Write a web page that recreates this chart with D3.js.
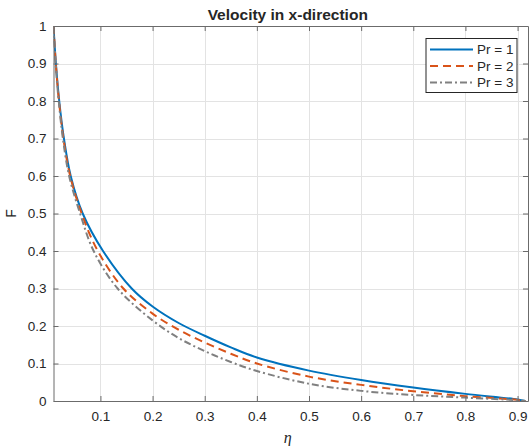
<!DOCTYPE html>
<html>
<head>
  <meta charset="utf-8">
  <title>Velocity in x-direction</title>
  <script src="https://cdn.jsdelivr.net/npm/d3@7"></script>
  <style>
    html, body { margin: 0; padding: 0; background: #fff; }
    text { font-family: "Liberation Sans", Arial, sans-serif; fill: #262626; }
  </style>
</head>
<body>
<div id="chart"></div>
<script>

  // --- data ---
  var seriesNames = ["Pr = 1", "Pr = 2", "Pr = 3"];

  var etaPr1 = [0.01, 0.0146, 0.021, 0.03, 0.043, 0.066, 0.105, 0.16, 0.2, 0.25, 0.3, 0.35, 0.4, 0.5, 0.6, 0.7, 0.8, 0.9, 0.915];
  var fPr1   = [1, 0.9, 0.8, 0.7, 0.6, 0.5, 0.4, 0.3, 0.252, 0.208, 0.174, 0.143, 0.116, 0.081, 0.056, 0.036, 0.019, 0.004, 0];

  var etaPr2 = [0.01, 0.0144, 0.0205, 0.029, 0.042, 0.064, 0.095, 0.144, 0.2, 0.25, 0.3, 0.35, 0.4, 0.5, 0.6, 0.7, 0.8, 0.9, 0.915];
  var fPr2   = [1, 0.9, 0.8, 0.7, 0.6, 0.5, 0.4, 0.3, 0.233, 0.19, 0.156, 0.126, 0.1, 0.065, 0.043, 0.026, 0.013, 0.003, 0];

  var etaPr3 = [0.01, 0.014, 0.02, 0.028, 0.04, 0.061, 0.087, 0.133, 0.2, 0.25, 0.3, 0.35, 0.4, 0.5, 0.6, 0.7, 0.8, 0.9, 0.915];
  var fPr3   = [1, 0.9, 0.8, 0.7, 0.6, 0.5, 0.4, 0.3, 0.215, 0.168, 0.133, 0.104, 0.08, 0.046, 0.027, 0.016, 0.009, 0.002, 0];

  var xTicks = [0.1, 0.2, 0.3, 0.4, 0.5, 0.6, 0.7, 0.8, 0.9];
  var yTicks = [0, 0.1, 0.2, 0.3, 0.4, 0.5, 0.6, 0.7, 0.8, 0.9, 1];

  // --- layout ---
  var W = 529, H = 446;
  var L = 53.5, R = 528, T = 26, B = 401;

  var svg = d3.select("#chart").append("svg")
    .attr("width", W).attr("height", H);

  var x = d3.scaleLinear().domain([0.01, 0.92]).range([L, R]);
  var y = d3.scaleLinear().domain([0, 1]).range([B, T]);

  // grid
  var grid = svg.append("g").attr("stroke", "#e3e3e3").attr("stroke-width", 1);
  grid.selectAll(".gx").data(xTicks).enter().append("line")
    .attr("x1", function (d) { return Math.round(x(d)) + 0.5; })
    .attr("x2", function (d) { return Math.round(x(d)) + 0.5; })
    .attr("y1", T).attr("y2", B);
  grid.selectAll(".gy").data(yTicks).enter().append("line")
    .attr("y1", function (d) { return Math.round(y(d)) + 0.5; })
    .attr("y2", function (d) { return Math.round(y(d)) + 0.5; })
    .attr("x1", L).attr("x2", R);

  // curves
  svg.append("clipPath").attr("id", "clip").append("rect")
    .attr("x", L).attr("y", T - 2).attr("width", R - L).attr("height", B - T + 2);

  var series = [
    { name: seriesNames[0], eta: etaPr1, f: fPr1, color: "#0072BD", dash: null },
    { name: seriesNames[1], eta: etaPr2, f: fPr2, color: "#D95319", dash: "8,5" },
    { name: seriesNames[2], eta: etaPr3, f: fPr3, color: "#808080", dash: "7,3,2,3" }
  ];

  var line = d3.line()
    .x(function (d) { return x(d[0]); })
    .y(function (d) { return y(d[1]); })
    .curve(d3.curveCatmullRom.alpha(0.5));

  svg.append("g").attr("clip-path", "url(#clip)")
    .selectAll("path").data(series).enter().append("path")
    .attr("d", function (s) { return line(d3.zip(s.eta, s.f)); })
    .attr("fill", "none")
    .attr("stroke", function (s) { return s.color; })
    .attr("stroke-width", 2)
    .attr("stroke-dasharray", function (s) { return s.dash; });

  // axes (MATLAB-style box with inward ticks)
  var axisColor = "#6b6b6b";
  var xb = d3.axisBottom(x).tickValues(xTicks).tickSize(-5).tickPadding(10).tickFormat(d3.format("~g"));
  var xt = d3.axisTop(x).tickValues(xTicks).tickSize(-5).tickFormat("");
  var yl = d3.axisLeft(y).tickValues(yTicks).tickSize(-5).tickPadding(7).tickFormat(d3.format("~g"));
  var yr = d3.axisRight(y).tickValues(yTicks).tickSize(-5).tickFormat("");

  function styleAxis(g) {
    g.select(".domain").attr("stroke", axisColor);
    g.selectAll(".tick line").attr("stroke", axisColor);
    g.selectAll(".tick text").attr("fill", "#262626")
      .style("font-size", "13.5px").style("font-family", "'Liberation Sans', Arial, sans-serif");
  }

  svg.append("g").attr("transform", "translate(0," + B + ")").call(xb.tickSizeOuter(0)).call(styleAxis);
  svg.append("g").attr("transform", "translate(0," + T + ")").call(xt.tickSizeOuter(0)).call(styleAxis);
  svg.append("g").attr("transform", "translate(" + L + ",0)").call(yl.tickSizeOuter(0)).call(styleAxis);
  svg.append("g").attr("transform", "translate(" + R + ",0)").call(yr.tickSizeOuter(0)).call(styleAxis);

  // title and axis labels
  svg.append("text")
    .attr("x", (L + R) / 2 - 3).attr("y", 20)
    .attr("text-anchor", "middle")
    .style("font-size", "15.5px").style("font-weight", "bold")
    .text("Velocity in x-direction");

  svg.append("text")
    .attr("x", (L + R) / 2 - 3).attr("y", 443)
    .attr("text-anchor", "middle")
    .style("font-family", "'Liberation Serif', 'DejaVu Serif', serif")
    .style("font-style", "italic").style("font-size", "16px")
    .text("η");

  svg.append("text")
    .attr("transform", "translate(16," + (y(0.5)) + ") rotate(-90)")
    .attr("text-anchor", "middle")
    .style("font-size", "14px")
    .text("F");

  // legend
  var lg = svg.append("g").attr("transform", "translate(426,38.5)");
  lg.append("rect").attr("width", 91).attr("height", 54)
    .attr("fill", "#fff").attr("stroke", "#262626").attr("stroke-width", 1);
  var items = lg.selectAll(".item").data(series).enter().append("g")
    .attr("transform", function (d, i) { return "translate(0," + (11 + i * 16.5) + ")"; });
  items.append("line")
    .attr("x1", 4).attr("x2", 47)
    .attr("stroke", function (s) { return s.color; })
    .attr("stroke-width", 2)
    .attr("stroke-dasharray", function (s) { return s.dash; });
  items.append("text")
    .attr("x", 51).attr("y", 4.5)
    .style("font-size", "13.5px")
    .text(function (s) { return s.name; });

</script>
</body>
</html>
